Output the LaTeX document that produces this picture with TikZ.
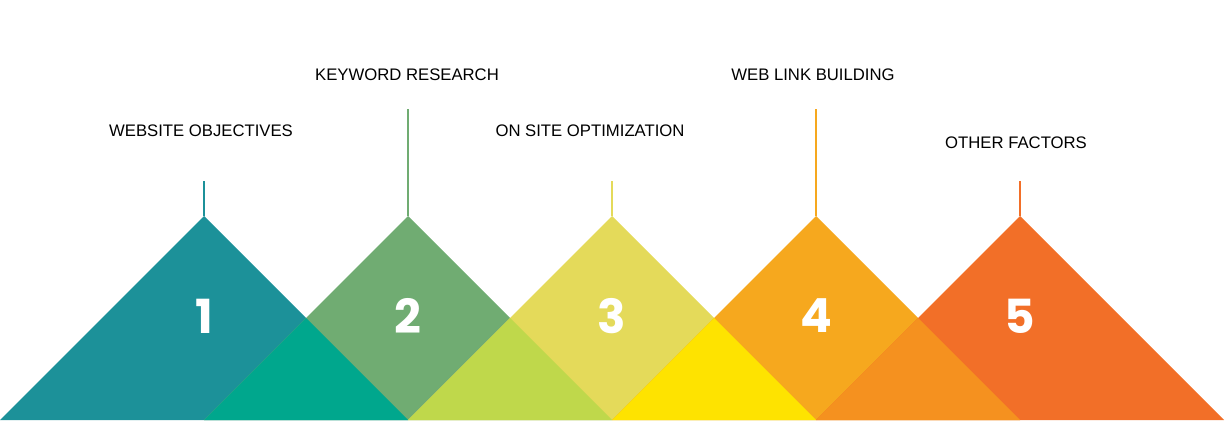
\documentclass[tikz,border=0pt]{standalone}
\usepackage{fontspec}
\setmainfont{Liberation Sans}
\newfontfamily\digitfont{Poppins}
\definecolor{tone1}{HTML}{1C9199}
\definecolor{tone2}{HTML}{70AC72}
\definecolor{tone3}{HTML}{E4DA5A}
\definecolor{tone4}{HTML}{F6A81E}
\definecolor{tone5}{HTML}{F26F28}
\definecolor{mix12}{HTML}{00A78D}
\definecolor{mix23}{HTML}{BFD84B}
\definecolor{mix34}{HTML}{FEE300}
\definecolor{mix45}{HTML}{F5911F}
\tikzset{
  digit/.style={text=white, font=\digitfont\bfseries\fontsize{47}{47}\selectfont, inner sep=0pt},
  caption/.style={text=black, font=\fontsize{16.7}{18}\selectfont, inner sep=0pt},
  stem/.style={line width=1.6pt}
}
\begin{document}
\begin{tikzpicture}[x=1pt, y=-1pt, line join=round]
        \useasboundingbox (0,0) rectangle (1225,420);
        % triangles
        \fill[tone1] (0,420) -- (204,216) -- (408,420) -- cycle;     % 1
        \fill[tone2] (204,420) -- (408,216) -- (612,420) -- cycle;   % 2
        \fill[tone3] (408,420) -- (612,216) -- (816,420) -- cycle;   % 3
        \fill[tone4] (612,420) -- (816,216) -- (1020,420) -- cycle;  % 4
        \fill[tone5] (816,420) -- (1020,216) -- (1224,420) -- cycle; % 5
        % overlaps
        \fill[mix12] (204,420) -- (306,318) -- (408,420) -- cycle;
        \fill[mix23] (408,420) -- (510,318) -- (612,420) -- cycle;
        \fill[mix34] (612,420) -- (714,318) -- (816,420) -- cycle;
        \fill[mix45] (816,420) -- (918,318) -- (1020,420) -- cycle;
        % stems
        \coordinate (top1) at (204,216); \coordinate (tip1) at (204,181);
        \coordinate (top2) at (408,216); \coordinate (tip2) at (408,109);
        \coordinate (top3) at (612,216); \coordinate (tip3) at (612,181);
        \coordinate (top4) at (816,216); \coordinate (tip4) at (816,109);
        \coordinate (top5) at (1020,216); \coordinate (tip5) at (1020,181);
        \draw[stem, tone1] (top1) -- (tip1);
        \draw[stem, tone2] (top2) -- (tip2);
        \draw[stem, tone3] (top3) -- (tip3);
        \draw[stem, tone4] (top4) -- (tip4);
        \draw[stem, tone5] (top5) -- (tip5);
        % numbers
        \node[digit] (num1) at (204,316) {1};
        \node[digit] (num2) at (408,316) {2};
        \node[digit] (num3) at (612,316) {3};
        \node[digit] (num4) at (816,316) {4};
        \node[digit] (num5) at (1020,316) {5};
        % labels
        \node[caption] (cap1) at (201,131) {WEBSITE OBJECTIVES};
        \node[caption] (cap2) at (407,75) {KEYWORD RESEARCH};
        \node[caption] (cap3) at (590,131) {ON SITE OPTIMIZATION};
        \node[caption] (cap4) at (813,75) {WEB LINK BUILDING};
        \node[caption] (cap5) at (1016,143) {OTHER FACTORS};
    \end{tikzpicture}
\end{document}
